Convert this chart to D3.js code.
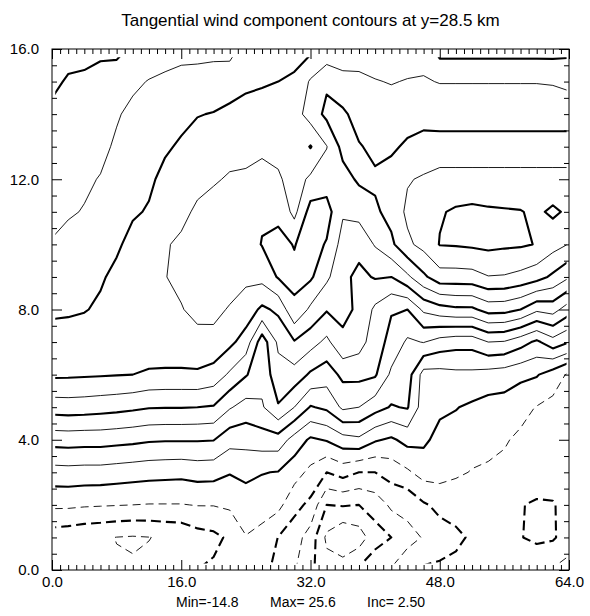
<!DOCTYPE html>
<html>
<head>
<meta charset="utf-8">
<script src="https://cdn.jsdelivr.net/npm/d3@7"></script>
<style>
  body { margin: 0; background: #fff; }
  text { font-family: "Liberation Sans", Arial, Helvetica, sans-serif; }
</style>
</head>
<body>
<svg id="chart" width="590" height="616"></svg>
<script>
// grid of tangential wind (m/s): one column per x (km), values from y=0 to y=16 (km)
const xGrid = [0, 2, 4, 6, 8, 10, 12, 14, 16, 18, 20, 22, 24, 26, 28, 30, 32,
               34, 36, 38, 40, 42, 44, 46, 48, 50, 52, 54, 56, 58, 60, 62, 64];
const yGrid = [0, 1, 2, 3, 4, 5, 6, 7, 8, 9, 10, 11, 12, 13, 14, 15, 16];

const c00 = [-6.0, -6.3, -2.0, 1.5, 6.0, 11.2, 15.45, 16.2, 14.5, 13.8, 12.6, 12.1, 11.6, 11.0, 10.3, 9.7, 9.2];
const c02 = [-6.4, -6.6, -2.0, 1.6, 6.1, 11.3, 15.4, 16.3, 14.6, 14.0, 13.1, 12.3, 11.9, 11.4, 10.8, 10.15, 9.5];
const c04 = [-6.8, -7.0, -2.2, 1.5, 6.0, 11.2, 15.3, 16.4, 14.85, 14.3, 13.6, 12.6, 12.2, 11.7, 11.1, 10.3, 9.45];
const c06 = [-7.0, -7.2, -2.3, 1.5, 6.0, 11.0, 15.2, 16.5, 15.4, 14.7, 14.0, 13.2, 12.6, 12.0, 11.4, 10.5, 9.7];
const c08 = [-7.3, -7.55, -2.4, 1.3, 5.8, 10.8, 15.1, 16.6, 16.2, 15.6, 14.6, 13.9, 13.3, 12.8, 12.3, 11.0, 9.5];
const c10 = [-7.3, -7.7, -2.5, 1.1, 5.6, 10.5, 15.0, 16.7, 16.8, 16.4, 15.8, 14.7, 14.0, 13.5, 13.0, 12.1, 10.3];
const c12 = [-7.1, -7.55, -2.6, 0.9, 5.3, 10.15, 14.6, 16.8, 16.9, 16.7, 16.3, 15.2, 14.6, 14.0, 13.4, 12.6, 11.2];
const c14 = [-6.9, -7.2, -2.6, 0.8, 5.2, 10.1, 14.5, 16.9, 17.3, 17.45, 17.3, 16.4, 15.6, 14.7, 13.9, 12.8, 11.8];
const c16 = [-6.7, -7.0, -2.6, 0.7, 5.2, 10.1, 14.5, 16.9, 17.4, 17.9, 17.9, 16.9, 16.3, 15.3, 14.4, 13.1, 11.9];
const c18 = [-5.0, -6.0, -2.4, 1.0, 5.2, 10.0, 14.6, 16.9, 18.0, 18.5, 18.5, 17.9, 16.8, 15.9, 14.9, 13.2, 11.9];
const c20 = [-4.6, -5.6, -2.4, 0.9, 5.1, 9.8, 14.0, 16.8, 18.1, 18.9, 19.0, 18.6, 17.2, 16.2, 15.1, 13.6, 11.8];
const c22 = [-4.5, -4.6, -2.1, 0.15, 3.4, 7.75, 12.1, 15.6, 17.3, 18.6, 19.1, 19.0, 17.8, 16.5, 15.5, 14.0, 11.6];
const c24 = [-3.6, -2.6, -1.2, 0.6, 3.35, 6.5, 10.2, 13.9, 16.4, 18.0, 18.9, 18.8, 17.8, 16.9, 15.7, 14.6, 13.4];
const c26 = [-4.5, -3.4, -1.3, 0.1, 3.8, 7.2, 8.4, 8.6, 14.5, 18.3, 20.1, 19.7, 18.9, 16.7, 15.8, 14.8, 13.6];
const c28 = [-5.5, -5.05, -1.8, -0.1, 3.9, 9.8, 11.5, 13.0, 15.5, 20.2, 20.6, 19.5, 17.9, 16.6, 15.9, 15.0, 14.0];
const c30 = [-7.3, -6.4, -4.2, -1.5, 1.5, 7.5, 11.5, 14.8, 19.6, 20.5, 19.9, 16.8, 16.3, 16.8, 16.4, 15.3, 14.3];
const c32 = [-9.5, -8.6, -5.6, -3.1, -0.4, 4.8, 9.6, 13.5, 17.0, 20.4, 21.0, 21.0, 18.0, 14.85, 18.6, 17.8, 14.4];
const c34 = [-11.5, -13.0, -10.0, -5.0, 0.2, 5.5, 8.7, 11.9, 15.2, 18.0, 19.8, 21.0, 18.8, 17.4, 20.6, 19.6, 15.6];
const c36 = [-11.0, -14.8, -9.8, -4.0, 1.5, 8.0, 10.6, 14.5, 15.6, 15.6, 16.5, 17.8, 19.0, 20.8, 20.5, 18.0, 16.5];
const c38 = [-9.6, -13.8, -10.0, -5.0, 2.0, 7.5, 10.7, 13.5, 14.6, 14.4, 15.8, 18.3, 20.4, 20.2, 18.9, 17.9, 16.6];
const c40 = [-8.3, -11.0, -9.0, -5.0, 0.3, 6.0, 10.3, 11.2, 12.0, 15.2, 17.7, 19.6, 20.4, 19.4, 18.3, 17.6, 16.4];
const c42 = [-7.3, -10.0, -7.0, -4.0, -0.4, 4.8, 7.0, 9.2, 10.2, 15.0, 19.5, 20.8, 21.0, 19.6, 18.4, 17.4, 16.5];
const c44 = [-6.5, -8.0, -7.0, -2.9, 0.8, 5.2, 6.2, 7.1, 10.0, 17.0, 22.0, 23.0, 22.3, 20.4, 18.9, 17.6, 16.5];
const c46 = [-4.6, -7.4, -5.3, -1.5, 0.5, 1.2, 1.5, 7.6, 13.0, 19.5, 23.3, 23.8, 22.8, 20.8, 19.2, 17.7, 16.6];
const c48 = [-4.6, -6.0, -4.4, -1.5, -0.8, 0.5, 1.6, 6.5, 14.0, 21.5, 25.1, 24.8, 23.4, 20.9, 19.0, 17.4, 14.0];
const c50 = [-4.2, -5.6, -3.8, -2.2, -0.9, 0.1, 1.9, 6.0, 14.5, 21.5, 25.2, 25.3, 23.4, 20.9, 19.0, 17.4, 14.0];
const c52 = [-4.0, -4.6, -3.6, -2.6, -1.7, -0.4, 1.9, 6.0, 14.5, 21.6, 25.4, 25.5, 23.4, 20.9, 19.0, 17.4, 14.0];
const c54 = [-3.5, -4.0, -3.4, -2.8, -1.9, -0.9, 1.5, 7.5, 16.0, 22.4, 25.6, 25.3, 23.4, 20.9, 19.0, 17.4, 14.0];
const c56 = [-3.2, -3.8, -3.6, -3.0, -2.3, -1.0, 1.2, 7.3, 15.9, 22.3, 25.4, 25.2, 23.4, 20.9, 19.0, 17.4, 14.0];
const c58 = [-3.2, -4.9, -4.85, -3.6, -2.9, -1.8, 0.6, 6.0, 15.0, 21.8, 25.3, 25.1, 23.4, 20.9, 19.0, 17.4, 14.0];
const c60 = [-3.0, -5.5, -5.4, -3.2, -3.0, -2.6, 0.2, 4.5, 13.0, 21.0, 24.9, 24.6, 23.4, 20.9, 19.0, 17.4, 14.0];
const c62 = [-2.3, -5.3, -5.2, -3.6, -3.5, -3.2, -1.2, 6.5, 13.5, 19.5, 23.5, 25.4, 23.4, 20.9, 19.0, 17.3, 14.0];
const c64 = [-1.5, -3.8, -4.0, -3.9, -3.7, -3.4, -2.9, 5.1, 11.1, 17.7, 22.4, 24.6, 23.4, 20.9, 19.0, 16.9, 14.3];

const columns = [c00, c02, c04, c06, c08, c10, c12, c14, c16, c18, c20, c22, c24, c26, c28, c30, c32,
                 c34, c36, c38, c40, c42, c44, c46, c48, c50, c52, c54, c56, c58, c60, c62, c64];

const levels = [-12.5, -10, -7.5, -5, -2.5, 0, 2.5, 5, 7.5, 10, 12.5, 15, 17.5, 20, 22.5, 25];
const xTicks = [0, 16, 32, 48, 64];
const yTicks = [0, 4, 8, 12, 16];
const title = "Tangential wind component contours at y=28.5 km";
const stats = ["Min=-14.8", "Max= 25.6", "Inc= 2.50"];

// where the field was sampled inside the frame
const fieldX = [0.4, 63.7];
const fieldY = [0.2, 15.75];

// dimensions
const dims = {width: 590, height: 616, margin: {top: 49, right: 21, bottom: 46, left: 52}};
const plotW = dims.width - dims.margin.left - dims.margin.right;
const plotH = dims.height - dims.margin.top - dims.margin.bottom;

const svg = d3.select("#chart");
const xScale = d3.scaleLinear().domain([0, 64]).range([dims.margin.left, dims.margin.left + plotW]);
const yScale = d3.scaleLinear().domain([0, 16]).range([dims.margin.top + plotH, dims.margin.top]);

// flatten columns into the row-major grid d3.contours wants
const nx = xGrid.length, ny = yGrid.length;
const values = new Array(nx * ny);
for (let j = 0; j < ny; j++) {
    for (let i = 0; i < nx; i++) values[j * nx + i] = columns[i][j];
}

// d3.contours puts grid value i at coordinate i + 0.5
const stepX = xGrid[1] - xGrid[0], stepY = yGrid[1] - yGrid[0];
const px = c => xScale(xGrid[0] + (c - 0.5) * stepX);
const py = c => yScale(yGrid[0] + (c - 0.5) * stepY);

const contours = d3.contours().size([nx, ny]).thresholds(levels)(values);

svg.append("defs").append("clipPath").attr("id", "field-clip")
    .append("rect")
    .attr("x", xScale(fieldX[0])).attr("y", yScale(fieldY[1]))
    .attr("width", xScale(fieldX[1]) - xScale(fieldX[0]))
    .attr("height", yScale(fieldY[0]) - yScale(fieldY[1]));

const lines = svg.append("g").attr("clip-path", "url(#field-clip)");
contours.forEach(c => {
    const level = c.value;
    const thick = Math.abs(level % 5) < 1e-9;
    const d = c.coordinates.map(poly => poly.map(ring =>
        "M" + ring.map(p => px(p[0]).toFixed(2) + "," + py(p[1]).toFixed(2)).join("L") + "Z"
    ).join("")).join("");
    lines.append("path")
        .attr("d", d)
        .attr("fill", "none")
        .attr("stroke", "#000")
        .attr("stroke-width", thick ? 2.1 : 0.9)
        .attr("stroke-linejoin", "round")
        .attr("stroke-dasharray", level < 0 ? (thick ? "10,5" : "8,5") : null);
});

// axes: ticks pointing inward on all four sides
const fmt = d3.format(".1f");
const minorX = d3.range(0, 65, 1).filter(v => v % 16 !== 0);
const minorY = d3.range(0, 16.01, 0.5).filter(v => v % 4 !== 0);
const bottomY = dims.margin.top + plotH, rightX = dims.margin.left + plotW;

function styleAxis(g) {
    g.select(".domain").remove();
    g.attr("font-family", "Liberation Sans, Arial, sans-serif").attr("font-size", 15);
    g.selectAll("line").attr("stroke", "#000");
    g.selectAll("text").attr("fill", "#000");
}

svg.append("g").attr("transform", `translate(0,${bottomY})`)
    .call(d3.axisBottom(xScale).tickValues(xTicks).tickSize(-10).tickPadding(6).tickFormat(fmt))
    .call(styleAxis);
svg.append("g").attr("transform", `translate(0,${bottomY})`)
    .call(d3.axisBottom(xScale).tickValues(minorX).tickSize(-5).tickFormat(""))
    .call(styleAxis);
svg.append("g").attr("transform", `translate(0,${dims.margin.top})`)
    .call(d3.axisTop(xScale).tickValues(xTicks).tickSize(-10).tickFormat(""))
    .call(styleAxis);
svg.append("g").attr("transform", `translate(0,${dims.margin.top})`)
    .call(d3.axisTop(xScale).tickValues(minorX).tickSize(-5).tickFormat(""))
    .call(styleAxis);
svg.append("g").attr("transform", `translate(${dims.margin.left},0)`)
    .call(d3.axisLeft(yScale).tickValues(yTicks).tickSize(-10).tickPadding(13).tickFormat(fmt))
    .call(styleAxis);
svg.append("g").attr("transform", `translate(${dims.margin.left},0)`)
    .call(d3.axisLeft(yScale).tickValues(minorY).tickSize(-5).tickFormat(""))
    .call(styleAxis);
svg.append("g").attr("transform", `translate(${rightX},0)`)
    .call(d3.axisRight(yScale).tickValues(yTicks).tickSize(-10).tickFormat(""))
    .call(styleAxis);
svg.append("g").attr("transform", `translate(${rightX},0)`)
    .call(d3.axisRight(yScale).tickValues(minorY).tickSize(-5).tickFormat(""))
    .call(styleAxis);

// frame
svg.append("rect")
    .attr("x", dims.margin.left).attr("y", dims.margin.top)
    .attr("width", plotW).attr("height", plotH)
    .attr("fill", "none").attr("stroke", "#000").attr("stroke-width", 1);

// texts
svg.append("text")
    .attr("x", (dims.margin.left + rightX) / 2).attr("y", 26)
    .attr("text-anchor", "middle").attr("font-size", 17)
    .text(title);

const statX = [176, 270, 367];
stats.forEach((s, i) => {
    svg.append("text").attr("x", statX[i]).attr("y", 607).attr("font-size", 14).text(s);
});
</script>
</body>
</html>
